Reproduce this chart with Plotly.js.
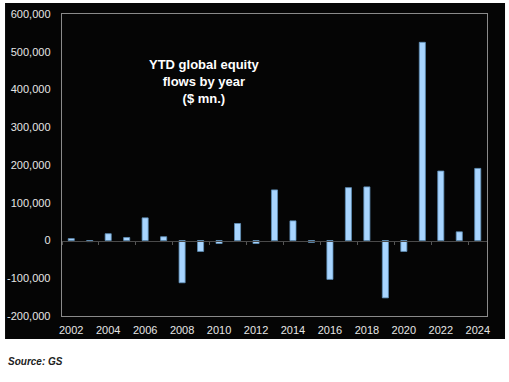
<!DOCTYPE html>
<html>
<head>
<meta charset="utf-8">
<script src="https://cdn.plot.ly/plotly-3.0.1.min.js"></script>
<style>html,body{margin:0;padding:0;background:#fff;}#chart{width:509px;height:382px;}</style>
</head>
<body>
<div id="chart"></div>
<script>
const years = [2002,2003,2004,2005,2006,2007,2008,2009,2010,2011,2012,2013,2014,2015,2016,2017,2018,2019,2020,2021,2022,2023,2024];
const flows = [5000,-3000,18000,8000,60000,10000,-112000,-29000,-8000,45000,-8000,134000,52000,-5000,-103000,140000,142000,-152000,-29000,525000,184000,23000,191000];
const yTickVals = [-200000,-100000,0,100000,200000,300000,400000,500000,600000];
const yTickText = ['-200,000','-100,000','0','100,000','200,000','300,000','400,000','500,000','600,000'];
const xLabelYears = years.filter(y => y % 2 === 0);
const zeroTickPos = xLabelYears.map(y => y - 0.5);

const fontFam = '"Liberation Sans", Arial, sans-serif';

const traces = [
  {
    type: 'bar', x: years, y: flows,
    marker: {color: '#a8d5ff', line: {color: '#5f8fb8', width: 0.8}},
    width: 0.33, hoverinfo: 'x+y'
  },
  {
    type: 'scatter', mode: 'none', x: years, y: flows, xaxis: 'x2', hoverinfo: 'skip', showlegend: false
  }
];

const layout = {
  width: 509, height: 382,
  margin: {l: 62, r: 22, t: 14, b: 66},
  paper_bgcolor: '#ffffff',
  plot_bgcolor: '#050505',
  showlegend: false,
  font: {family: fontFam, size: 11, color: '#e6e6e6'},
  xaxis: {
    range: [2001.5, 2024.5], tickvals: xLabelYears, ticktext: xLabelYears.map(String),
    showgrid: false, zeroline: false, showline: true, linecolor: '#8a8a8a', linewidth: 1.3,
    mirror: true, ticks: '', ticklabelstandoff: 3,
    tickfont: {family: fontFam, size: 11, color: '#e6e6e6'}
  },
  xaxis2: {
    overlaying: 'x', matches: 'x', anchor: 'free', position: 0.25,
    tickvals: zeroTickPos, showticklabels: false, ticks: 'outside', ticklen: 3, tickcolor: '#555555', tickwidth: 1,
    showline: true, linecolor: '#4a4a4a', linewidth: 1, showgrid: false, zeroline: false
  },
  yaxis: {
    range: [-200000, 600000], tickvals: yTickVals, ticktext: yTickText,
    showgrid: false, zeroline: false, showline: true, linecolor: '#8a8a8a', linewidth: 1.3,
    mirror: true, ticks: '', ticklabelstandoff: 8,
    tickfont: {family: fontFam, size: 11, color: '#e6e6e6'}
  },
  shapes: [
    {type: 'rect', xref: 'paper', yref: 'paper', x0: -0.134, x1: 1.0424, y0: -0.0762, y1: 1.0364,
     fillcolor: '#050505', line: {width: 0}, layer: 'below'}
  ],
  annotations: [
    {xref: 'paper', yref: 'paper', x: 0.336, y: 0.778, xanchor: 'center', yanchor: 'middle',
     text: '<b>YTD global equity<br>flows by year<br>($ mn.)</b>', showarrow: false,
     font: {family: fontFam, size: 13, color: '#ffffff'}, align: 'center'},
    {xref: 'paper', yref: 'paper', x: -0.1318, y: -0.152, xanchor: 'left', yanchor: 'middle',
     text: '<b><i>Source: GS</i></b>', showarrow: false,
     font: {family: '"Liberation Sans Narrow", "Arial Narrow", "Liberation Sans", sans-serif', size: 10, color: '#222222'}}
  ]
};

Plotly.newPlot('chart', traces, layout, {displayModeBar: false, staticPlot: true});
</script>
</body>
</html>
